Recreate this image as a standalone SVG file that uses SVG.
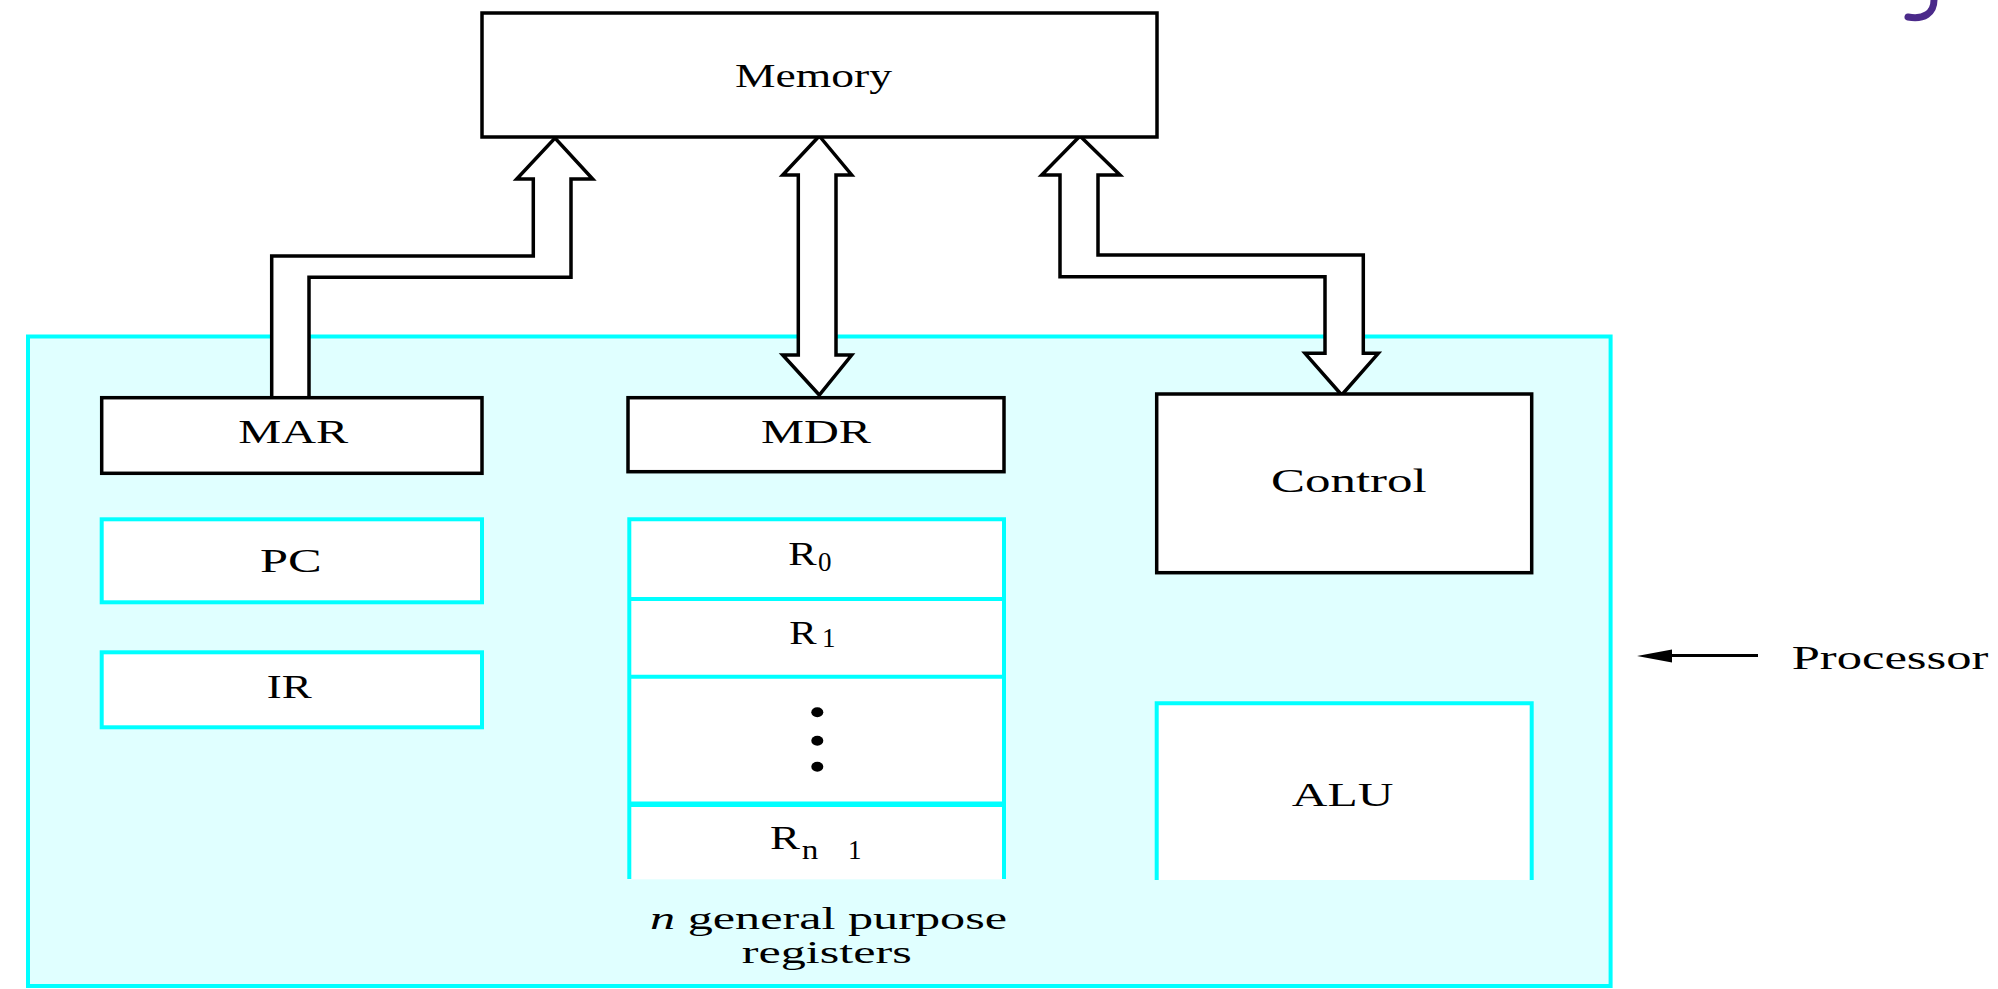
<svg xmlns="http://www.w3.org/2000/svg" width="1998" height="989" viewBox="0 0 1998 989">
<style>
.blk{fill:#fff;stroke:#000;stroke-width:3.5}
.cyn{fill:none;stroke:#00FFFF;stroke-width:4}
.wf{fill:#fff;stroke:none}
.bus{fill:#fff;stroke:#000;stroke-width:3.5;stroke-linejoin:miter}
.t{font-family:"Liberation Serif","Times New Roman",serif;font-size:33px;fill:#000}
.sub{font-size:27px}
.cap{font-size:31px}
</style>
<rect width="1998" height="989" fill="#fff"/>
<g id="processor">
<rect x="28" y="336.5" width="1582.6" height="649.5" fill="#E0FFFF" stroke="#00FFFF" stroke-width="4"/>
</g>
<g id="connectors">
<path class="bus" d="M271.7,398 V256 H533.3 V179 H516.7 L555,138 L592.7,179 H571 V277.3 H309 V398 Z"/>
<path class="bus" d="M819.3,136 L851.7,175 H836 V355 H851.7 L819.3,395 L782.7,355 H798.3 V175 H782.7 Z"/>
<path class="bus" d="M1080,136 L1120,175 H1098 V255 H1363.3 V353.3 H1378.3 L1341.7,395 L1305,353.3 H1325 V276.7 H1060 V175 H1041.7 Z"/>
<line x1="1758" y1="655.5" x2="1665" y2="655.5" stroke="#000" stroke-width="3"/>
<polygon points="1637,656 1672,649.5 1672,662.5" fill="#000"/>
</g>
<g id="memory">
<rect class="blk" x="482" y="13" width="675" height="124"/>
<text class="t" x="735" y="87" textLength="157" lengthAdjust="spacingAndGlyphs">Memory</text>
</g>
<g id="mar">
<rect class="blk" x="101.7" y="397.7" width="380.3" height="75.6"/>
<text class="t" x="238.3" y="443" textLength="110" lengthAdjust="spacingAndGlyphs">MAR</text>
</g>
<g id="mdr">
<rect class="blk" x="628" y="397.7" width="376" height="74"/>
<text class="t" x="761" y="443" textLength="110" lengthAdjust="spacingAndGlyphs">MDR</text>
</g>
<g id="pc">
<rect class="wf" x="101.7" y="519.3" width="380.3" height="83"/>
<rect class="cyn" x="101.7" y="519.3" width="380.3" height="83"/>
<text class="t" x="260" y="572.3" textLength="61.7" lengthAdjust="spacingAndGlyphs">PC</text>
</g>
<g id="ir">
<rect class="wf" x="101.7" y="652.3" width="380.3" height="75"/>
<rect class="cyn" x="101.7" y="652.3" width="380.3" height="75"/>
<text class="t" x="266.7" y="697.7" textLength="45" lengthAdjust="spacingAndGlyphs">IR</text>
</g>
<g id="registers">
<rect class="wf" x="629.3" y="519.3" width="374.7" height="360"/>
<path class="cyn" d="M629.3,879 V519.3 H1004 V879 M629.3,599 H1004 M629.3,676.7 H1004"/>
<line x1="629.3" y1="804.3" x2="1004" y2="804.3" stroke="#00FFFF" stroke-width="5.5"/>
<text class="t" x="788.3" y="565" textLength="28.4" lengthAdjust="spacingAndGlyphs">R</text>
<text class="t sub" x="818" y="570.7">0</text>
<text class="t" x="789.3" y="644.3" textLength="27.4" lengthAdjust="spacingAndGlyphs">R</text>
<text class="t sub" x="822" y="646.7">1</text>
<ellipse cx="817.3" cy="712.3" rx="6" ry="5" fill="#000"/>
<ellipse cx="817.3" cy="740.7" rx="6" ry="5" fill="#000"/>
<ellipse cx="817.3" cy="766.7" rx="6" ry="5" fill="#000"/>
<text class="t" x="770" y="849" textLength="30" lengthAdjust="spacingAndGlyphs">R</text>
<text class="t sub" x="801.7" y="859" textLength="16.6" lengthAdjust="spacingAndGlyphs">n</text>
<text class="t sub" x="848" y="859">1</text>
<text class="t cap" x="650" y="929" textLength="357" lengthAdjust="spacingAndGlyphs"><tspan font-style="italic">n</tspan> general purpose</text>
<text class="t cap" x="741.7" y="963" textLength="170" lengthAdjust="spacingAndGlyphs">registers</text>
</g>
<g id="control">
<rect class="blk" x="1156.7" y="394" width="375" height="178.7"/>
<text class="t" x="1271" y="491.7" textLength="155.7" lengthAdjust="spacingAndGlyphs">Control</text>
</g>
<g id="alu">
<rect class="wf" x="1156.7" y="703.3" width="375" height="176.7"/>
<path class="cyn" d="M1156.7,880 V703.3 H1531.7 V880"/>
<text class="t" x="1291.7" y="806" textLength="101.7" lengthAdjust="spacingAndGlyphs">ALU</text>
</g>
<g id="processor-label">
<text class="t" x="1791.7" y="669.3" textLength="196.7" lengthAdjust="spacingAndGlyphs">Processor</text>
</g>
<g id="corner-mark">
<path d="M1934,0 C1934,13 1924,20 1908,17" fill="none" stroke="#4B2A8A" stroke-width="7" stroke-linecap="round"/>
</g>
</svg>
